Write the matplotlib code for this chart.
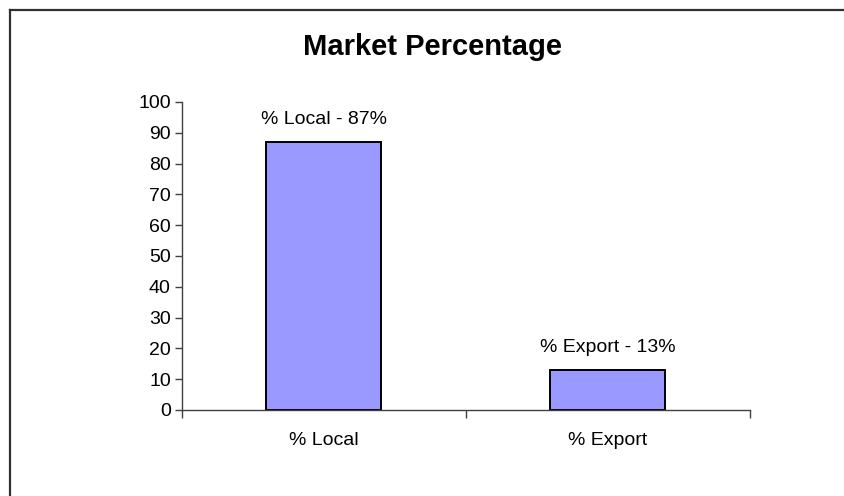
import matplotlib.pyplot as plt
from matplotlib.lines import Line2D
from matplotlib.ticker import FixedLocator

categories = ["% Local", "% Export"]
values = [87, 13]
bar_labels = ["% Local - 87%", "% Export - 13%"]

plt.rcParams['font.family'] = ['Liberation Sans', 'DejaVu Sans']

fig = plt.figure(figsize=(8.44, 4.96), dpi=100)
ax = fig.add_axes([0.2156, 0.1734, 0.673, 0.621])

x = list(range(len(categories)))
bars = ax.bar(x, values, width=0.405, color='#9999FF', edgecolor='black', linewidth=1.4)

for rect, label in zip(bars, bar_labels):
    ax.annotate(label, (rect.get_x() + rect.get_width() / 2, rect.get_height()),
                xytext=(0, 10), textcoords='offset points',
                ha='center', va='bottom', fontsize=14)

ax.set_xlim(-0.5, len(categories) - 0.5)
ax.set_ylim(0, 100)
ax.set_yticks(range(0, 101, 10))
ax.set_xticks(x)
ax.set_xticklabels(categories)
ax.xaxis.set_minor_locator(FixedLocator([-0.5, 0.5, 1.5]))

ax.tick_params(axis='y', direction='out', length=5, width=1, labelsize=14, pad=3, color='#404040')
ax.tick_params(axis='x', which='major', length=0, labelsize=14, pad=16)
ax.tick_params(axis='x', which='minor', direction='out', length=6, width=1, color='#404040')

for side in ['top', 'right']:
    ax.spines[side].set_visible(False)
for side in ['left', 'bottom']:
    ax.spines[side].set_color('#404040')
    ax.spines[side].set_linewidth(1)

fig.text(0.512, 0.905, "Market Percentage", ha='center', va='center',
         fontsize=21, fontweight='bold')

# chart frame: top and left edges
fig.add_artist(Line2D([0.0113, 1.0], [0.9798, 0.9798], transform=fig.transFigure,
                      color='#303030', linewidth=1.6))
fig.add_artist(Line2D([0.0113, 0.0113], [0.0, 0.9798], transform=fig.transFigure,
                      color='#303030', linewidth=1.6))

fig.savefig('out.png', dpi=100)
